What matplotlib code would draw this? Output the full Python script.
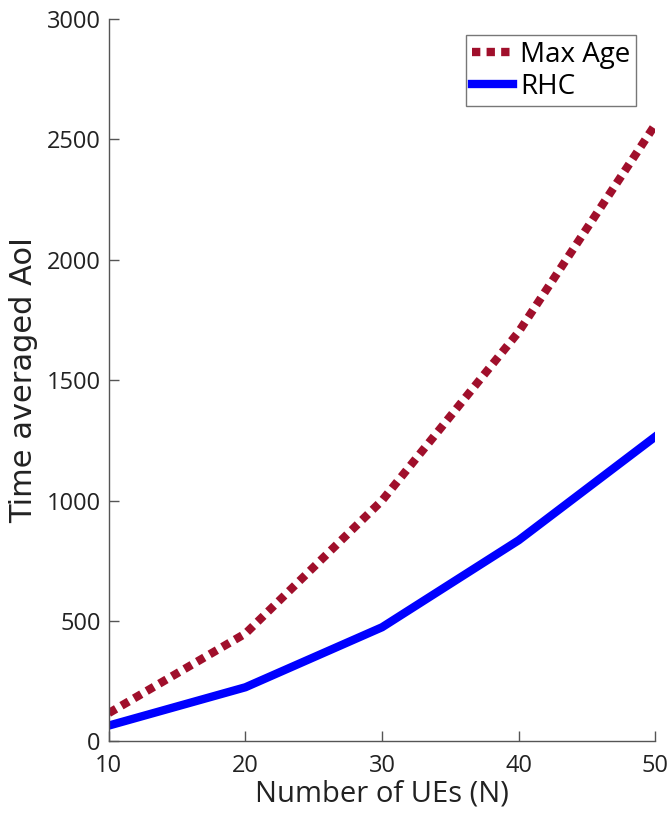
import numpy as np
import matplotlib.pyplot as plt

plt.rcParams['font.family'] = ['Open Sans', 'DejaVu Sans']

# Datos
num_ues = [10, 20, 30, 40, 50]
max_age = [118, 448, 1000, 1700, 2560]
rhc = [66, 225, 474, 835, 1265]

fig = plt.figure(figsize=(6.72, 8.13), dpi=100)
ax = fig.add_axes([0.162, 0.088, 0.813, 0.889])

ax.plot(num_ues, max_age, color='#a00f2b', linewidth=6, linestyle=(0, (1.0, 0.75)),
        dash_capstyle='butt', label='Max Age')
ax.plot(num_ues, rhc, color='#0000ff', linewidth=6, label='RHC')

ax.set_xlim(10, 50)
ax.set_ylim(0, 3000)
ax.set_xticks([10, 20, 30, 40, 50])
ax.set_yticks([0, 500, 1000, 1500, 2000, 2500, 3000])

for s in ['top', 'right']:
    ax.spines[s].set_visible(False)
for s in ['left', 'bottom']:
    ax.spines[s].set_color('#555555')
    ax.spines[s].set_linewidth(1.0)

ax.tick_params(direction='in', length=7, width=1, colors='#555555',
               labelcolor='#222222', labelsize=17)
ax.tick_params(axis='x', pad=9)
ax.tick_params(axis='y', pad=6)
ax.set_xlabel('Number of UEs (N)', fontsize=21, color='#222222', labelpad=1)
ax.set_ylabel('Time averaged AoI', fontsize=22, color='#222222', labelpad=6,
              family=['DejaVu Sans'])

leg = ax.legend(loc='upper right', bbox_to_anchor=(0.975, 0.985), fontsize=20,
                frameon=True, fancybox=False, handlelength=1.5, handletextpad=0.25,
                borderpad=0.2, labelspacing=0.15, borderaxespad=0.2)
leg.get_frame().set_edgecolor('#555555')
leg.get_frame().set_linewidth(1.0)

fig.savefig('out.png', dpi=100)
